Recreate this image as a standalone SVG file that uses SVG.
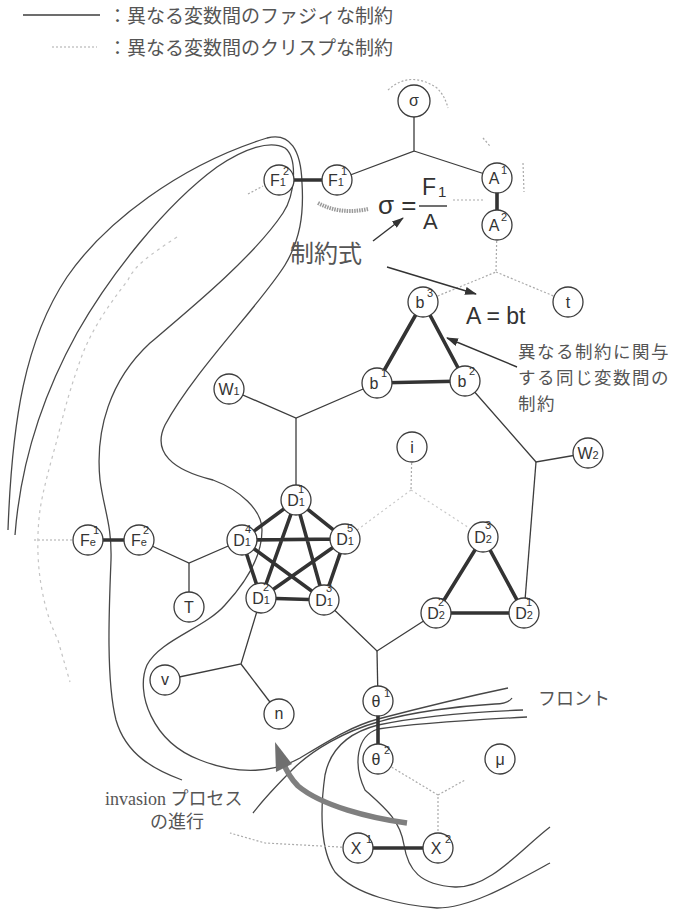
<svg xmlns="http://www.w3.org/2000/svg" width="676" height="915" viewBox="0 0 676 915">
<style>
.fr{fill:none;stroke:#474747;stroke-width:1.3}
.ln{fill:none;stroke:#3c3c3c;stroke-width:1.3}
.tk{fill:none;stroke:#333;stroke-width:3.6}
.cr{fill:none;stroke:#aaa;stroke-width:1.2;stroke-dasharray:2 2}
.cl{fill:none;stroke:#c8c8c8;stroke-width:1.2;stroke-dasharray:2 3}
.fd{fill:none;stroke:#c4c4c4;stroke-width:1.2;stroke-dasharray:3 4}
.nd circle{fill:#fff;stroke:#3c3c3c;stroke-width:1.3}
.nd text{font-family:"Liberation Sans",Arial,sans-serif;font-size:16px;fill:#333;text-anchor:middle}
.nd text.sp{font-size:11px;text-anchor:start}
.jp{font-family:"Noto Sans CJK JP",sans-serif;fill:#555}
.fm{font-family:"Liberation Sans",Arial,sans-serif;fill:#333}
.ar{fill:none;stroke:#333;stroke-width:1.4}
</style>
<defs>
<marker id="ah" viewBox="0 0 12 8" refX="11" refY="4" markerWidth="12" markerHeight="8" markerUnits="userSpaceOnUse" orient="auto">
<path d="M0,0 L12,4 L0,8 Z" fill="#333"/>
</marker>
</defs>

<g id="legend">
<line x1="23" y1="15" x2="100" y2="15" class="ln"/>
<line x1="52" y1="47" x2="97" y2="47" class="cr"/>
<text class="jp" x="108" y="23" font-size="19">：異なる変数間のファジィな制約</text>
<text class="jp" x="108" y="55" font-size="19">：異なる変数間のクリスプな制約</text>
</g>

<g id="fronts">
<path class="fr" d="M8 530 C12 420 25 340 67 277 C105 222 180 165 267 138 C290 132 301 150 302 183 C304 215 300 240 285 265 C260 305 195 370 165 425 C152 452 172 470 213 480 C240 490 262 510 262 530 C262 552 250 578 225 605 C205 628 160 640 147 665 C135 692 152 742 200 760 C240 776 275 772 300 758 C330 740 352 726 378 719 C420 708 470 696 508 688"/>
<path class="fr" d="M15 535 C20 470 40 400 77 333 C110 275 165 205 217 167 C245 148 270 140 285 148 C298 158 295 195 283 213 C255 255 195 305 150 343 C110 380 95 430 100 480 C104 510 112 525 111 560 C109 610 106 680 116 720 C126 755 155 770 182 780"/>
<path class="fr" d="M512 698 Q508 704 495 704 C460 706 410 712 378 722 C345 731 312 750 292 770 C276 786 263 800 253 813"/>
<path class="fr" d="M523 710 C470 712 420 716 378 725 C347 733 330 750 325 775 C320 810 320 850 335 872 C355 895 400 905 437 908 C470 908 510 885 550 863"/>
<path class="fr" d="M527 717 C470 720 410 724 378 729 C356 736 353 765 365 790 C385 808 400 820 404 845 C408 870 420 885 455 887 C490 888 520 850 550 827"/>
</g>

<g id="connectors">
<polyline class="ln" points="414,101 414,151 337,180"/>
<line class="ln" x1="414" y1="151" x2="497" y2="178"/>
<polyline class="ln" points="229,389 296,418 377,383"/>
<line class="ln" x1="296" y1="418" x2="296" y2="500"/>
<polyline class="ln" points="465,381 536,462 588,453"/>
<line class="ln" x1="536" y1="462" x2="524" y2="613"/>
<polyline class="ln" points="139,540 189,563 242,540"/>
<line class="ln" x1="189" y1="563" x2="189" y2="607"/>
<polyline class="ln" points="324,600 377,651 436,613"/>
<line class="ln" x1="377" y1="651" x2="378" y2="701"/>
<polyline class="ln" points="261,598 241,664 165,680"/>
<line class="ln" x1="241" y1="664" x2="279" y2="714"/>

<polyline class="cr" points="497,225 496,272 423,302"/>
<line class="cr" x1="496" y1="272" x2="568" y2="302"/>
<line class="cr" x1="412" y1="447" x2="411" y2="490"/>
<line class="cl" x1="411" y1="490" x2="345" y2="539"/>
<line class="cl" x1="411" y1="490" x2="483" y2="537"/>
<polyline class="cr" points="378,759 438,795 438,848"/>
<line class="cr" x1="438" y1="795" x2="465" y2="780"/>
<polyline class="cr" points="358,848 265,843 230,833"/>
<line class="cr" x1="88" y1="540" x2="33" y2="540"/>
<path class="cr" d="M388 90 Q410 70 437 88 Q445 96 448 108"/>
<line class="cr" x1="483" y1="138" x2="490" y2="146"/>
<line class="cr" x1="453" y1="200" x2="484" y2="200"/>
<line class="cr" x1="523" y1="163" x2="524" y2="192"/>
<line class="cr" x1="248" y1="194" x2="263" y2="186"/>
<path class="fd" d="M177 237 C150 255 135 265 128 280 C105 310 88 335 78 367 C68 395 62 420 57 440 C50 465 43 490 40 510 C36 540 38 570 42 590 C46 612 52 628 58 640 C62 655 66 668 70 682"/>

<line class="tk" x1="279" y1="180" x2="337" y2="180"/>
<line class="tk" x1="497" y1="178" x2="497" y2="225"/>
<polygon class="tk" points="423,302 377,383 465,381"/>
<line class="tk" x1="88" y1="540" x2="139" y2="540"/>
<line class="tk" x1="378" y1="701" x2="378" y2="759"/>
<line class="tk" x1="358" y1="848" x2="438" y2="848"/>
<polygon class="tk" points="483,537 436,613 524,613"/>
<path class="tk" d="M296 500 L242 540 L261 598 L324 600 L345 539 Z M296 500 L261 598 M296 500 L324 600 M242 540 L345 539 M242 540 L324 600 M345 539 L261 598"/>
</g>

<g id="n-sigma" class="nd"><circle cx="414" cy="101" r="16"/><text x="414" y="106">σ</text></g>
<g id="n-F1-2" class="nd"><circle cx="279" cy="180" r="15"/><text x="278" y="186">F<tspan font-size="11">1</tspan></text><text class="sp" x="283" y="175">2</text></g>
<g id="n-F1-1" class="nd"><circle cx="337" cy="180" r="15"/><text x="336" y="186">F<tspan font-size="11">1</tspan></text><text class="sp" x="341" y="175">1</text></g>
<g id="n-A1" class="nd"><circle cx="497" cy="178" r="15"/><text x="494" y="184">A</text><text class="sp" x="501" y="174">1</text></g>
<g id="n-A2" class="nd"><circle cx="497" cy="225" r="15"/><text x="494" y="231">A</text><text class="sp" x="501" y="221">2</text></g>
<g id="n-b3" class="nd"><circle cx="423" cy="302" r="15"/><text x="420" y="308">b</text><text class="sp" x="427" y="297">3</text></g>
<g id="n-t" class="nd"><circle cx="568" cy="302" r="15"/><text x="568" y="308">t</text></g>
<g id="n-b1" class="nd"><circle cx="377" cy="383" r="15"/><text x="374" y="389">b</text><text class="sp" x="381" y="377">1</text></g>
<g id="n-b2" class="nd"><circle cx="465" cy="381" r="15"/><text x="462" y="387">b</text><text class="sp" x="469" y="375">2</text></g>
<g id="n-W1" class="nd"><circle cx="229" cy="389" r="15"/><text x="229" y="395">W<tspan font-size="11">1</tspan></text></g>
<g id="n-W2" class="nd"><circle cx="588" cy="453" r="15"/><text x="588" y="459">W<tspan font-size="11">2</tspan></text></g>
<g id="n-i" class="nd"><circle cx="412" cy="447" r="15"/><text x="412" y="453">i</text></g>
<g id="n-D1-1" class="nd"><circle cx="296" cy="500" r="15"/><text x="296" y="506">D<tspan font-size="11">1</tspan></text><text class="sp" x="298" y="493">1</text></g>
<g id="n-D1-4" class="nd"><circle cx="242" cy="540" r="15"/><text x="242" y="546">D<tspan font-size="11">1</tspan></text><text class="sp" x="245" y="533">4</text></g>
<g id="n-D1-5" class="nd"><circle cx="345" cy="539" r="15"/><text x="345" y="545">D<tspan font-size="11">1</tspan></text><text class="sp" x="347" y="532">5</text></g>
<g id="n-D1-2" class="nd"><circle cx="261" cy="598" r="15"/><text x="261" y="604">D<tspan font-size="11">1</tspan></text><text class="sp" x="263" y="591">2</text></g>
<g id="n-D1-3" class="nd"><circle cx="324" cy="600" r="15"/><text x="324" y="606">D<tspan font-size="11">1</tspan></text><text class="sp" x="326" y="592">3</text></g>
<g id="n-Fe-1" class="nd"><circle cx="88" cy="540" r="15"/><text x="88" y="546">F<tspan font-size="11">e</tspan></text><text class="sp" x="93" y="534">1</text></g>
<g id="n-Fe-2" class="nd"><circle cx="139" cy="540" r="15"/><text x="139" y="546">F<tspan font-size="11">e</tspan></text><text class="sp" x="143" y="534">2</text></g>
<g id="n-T" class="nd"><circle cx="189" cy="607" r="15"/><text x="189" y="613">T</text></g>
<g id="n-D2-3" class="nd"><circle cx="483" cy="537" r="15"/><text x="483" y="543">D<tspan font-size="11">2</tspan></text><text class="sp" x="485" y="529">3</text></g>
<g id="n-D2-2" class="nd"><circle cx="436" cy="613" r="15"/><text x="436" y="619">D<tspan font-size="11">2</tspan></text><text class="sp" x="438" y="606">2</text></g>
<g id="n-D2-1" class="nd"><circle cx="524" cy="613" r="15"/><text x="524" y="619">D<tspan font-size="11">2</tspan></text><text class="sp" x="526" y="606">1</text></g>
<g id="n-v" class="nd"><circle cx="165" cy="680" r="15"/><text x="165" y="685">v</text></g>
<g id="n-n" class="nd"><circle cx="279" cy="714" r="15"/><text x="279" y="719">n</text></g>
<g id="n-theta1" class="nd"><circle cx="378" cy="701" r="15"/><text x="376" y="707">θ</text><text class="sp" x="384" y="697">1</text></g>
<g id="n-theta2" class="nd"><circle cx="378" cy="759" r="15"/><text x="376" y="765">θ</text><text class="sp" x="384" y="754">2</text></g>
<g id="n-mu" class="nd"><circle cx="500" cy="759" r="15"/><text x="500" y="765">μ</text></g>
<g id="n-X1" class="nd"><circle cx="358" cy="848" r="15"/><text x="356" y="854">X</text><text class="sp" x="366" y="843">1</text></g>
<g id="n-X2" class="nd"><circle cx="438" cy="848" r="15"/><text x="436" y="854">X</text><text class="sp" x="445" y="843">2</text></g>

<g id="formulas">
<text class="fm" x="378" y="214" font-size="26">σ =</text>
<text class="fm" x="422" y="195" font-size="23">F<tspan font-size="15" dx="2" dy="2">1</tspan></text>
<line x1="419" y1="206" x2="447" y2="206" stroke="#333" stroke-width="1.4"/>
<text class="fm" x="423" y="229" font-size="22">A</text>
<text class="fm" x="466" y="324" font-size="23">A = bt</text>
<path d="M318 203 Q340 215 368 209" fill="none" stroke="#9a9a9a" stroke-width="4" stroke-dasharray="1.5 1"/>
</g>

<g id="labels">
<text class="jp" x="290" y="262" font-size="24">制約式</text>
<line class="ar" x1="373" y1="241" x2="403" y2="218" marker-end="url(#ah)"/>
<line class="ar" x1="387" y1="267" x2="476" y2="294" marker-end="url(#ah)"/>
<text class="jp" x="518" y="358" font-size="17.5" letter-spacing="1.5">異なる制約に関与</text>
<text class="jp" x="518" y="384" font-size="17.5" letter-spacing="1.5">する同じ変数間の</text>
<text class="jp" x="518" y="410" font-size="17.5" letter-spacing="1.5">制約</text>
<line class="ar" x1="517" y1="367" x2="447" y2="338" marker-end="url(#ah)"/>
<text class="jp" x="538" y="705" font-size="18">フロント</text>
<text x="105" y="805" font-size="18" font-family="Liberation Serif, Noto Sans CJK JP, serif" fill="#555">invasion <tspan font-family="Noto Sans CJK JP, sans-serif">プロセス</tspan></text>
<text class="jp" x="150" y="828" font-size="18">の進行</text>
<path d="M407 823 C370 818 322 806 298 786 C289 777 284 766 281 756" fill="none" stroke="#7f7f7f" stroke-width="5.5"/>
<polygon points="275,742 276,772 292,764" fill="#6f6f6f"/>
</g>
</svg>
